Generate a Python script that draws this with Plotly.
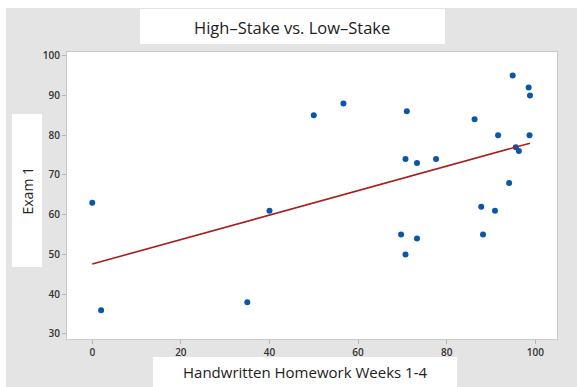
import plotly.graph_objects as go

# Data
homework = [0, 2, 35, 40, 50, 56.7, 71, 70.7, 73.3, 77.6, 86.3, 91.6, 94.9, 98.5,
            98.8, 98.7, 95.6, 96.3, 94.1, 87.8, 90.9, 88.2, 69.7, 73.3, 70.7]
exam1 = [63, 36, 38, 61, 85, 88, 86, 74, 73, 74, 84, 80, 95, 92,
         90, 80, 77, 76, 68, 62, 61, 55, 55, 54, 50]
fit_x = [0, 98.8]
fit_y = [47.6, 78.0]
x_ticks = [0, 20, 40, 60, 80, 100]
y_ticks = [30, 40, 50, 60, 70, 80, 90, 100]

title_text = "High\u2013Stake vs. Low\u2013Stake"
x_title = "Handwritten Homework Weeks 1-4"
y_title = "Exam 1"

W, H = 577, 387
L, R, T, B = 67, 557, 52, 339  # plot area in pixels


def px(x):
    return (x - L) / (R - L)


def py(y):
    return (B - y) / (B - T)


fig = go.Figure()
fig.add_trace(go.Scatter(x=homework, y=exam1, mode="markers",
                         marker=dict(size=6, color="#0a56a8"),
                         showlegend=False, hoverinfo="x+y"))
fig.add_trace(go.Scatter(x=fit_x, y=fit_y, mode="lines",
                         line=dict(color="#a81e1e", width=1.6),
                         showlegend=False, hoverinfo="skip"))

tickfont = dict(family="Open Sans", size=10, color="#333333", weight=600)
axis_common = dict(showgrid=False, zeroline=False, showline=True, mirror=True,
                   linecolor="#c9c9c9", linewidth=1, ticks="outside", ticklen=4,
                   tickcolor="#b5b5b5", tickfont=tickfont)

fig.update_xaxes(range=[-5.7, 104.9], tickvals=x_ticks, **axis_common)
fig.update_yaxes(range=[28.74, 100.93], tickvals=y_ticks, **axis_common)

shapes = [
    # white strips at top and left edges
    dict(type="rect", xref="paper", yref="paper", x0=px(0), x1=px(W), y0=py(0), y1=py(8),
         fillcolor="white", line=dict(width=0), layer="above"),
    dict(type="rect", xref="paper", yref="paper", x0=px(0), x1=px(6), y0=py(0), y1=py(H),
         fillcolor="white", line=dict(width=0), layer="above"),
    # title box
    dict(type="rect", xref="paper", yref="paper", x0=px(140), x1=px(445), y0=py(9), y1=py(44),
         fillcolor="white", line=dict(width=0), layer="above"),
    # y-label box
    dict(type="rect", xref="paper", yref="paper", x0=px(12), x1=px(42), y0=py(114), y1=py(267),
         fillcolor="white", line=dict(width=0), layer="above"),
    # x-label box
    dict(type="rect", xref="paper", yref="paper", x0=px(153), x1=px(457), y0=py(357), y1=py(390),
         fillcolor="white", line=dict(width=0), layer="above"),
]

annotations = [
    dict(text=title_text, xref="paper", yref="paper", x=px(292), y=py(27),
         xanchor="center", yanchor="middle", showarrow=False,
         font=dict(family="Open Sans", size=16.5, color="#222222")),
    dict(text=x_title, xref="paper", yref="paper", x=px(305), y=py(372),
         xanchor="center", yanchor="middle", showarrow=False,
         font=dict(family="Open Sans", size=15, color="#222222")),
    dict(text=y_title, xref="paper", yref="paper", x=px(27), y=py(190.5),
         xanchor="center", yanchor="middle", showarrow=False, textangle=-90,
         font=dict(family="Open Sans", size=14, color="#222222")),
]

fig.update_layout(
    width=W, height=H,
    margin=dict(l=L, r=W - R, t=T, b=H - B, pad=0),
    paper_bgcolor="#e4e4e4", plot_bgcolor="white",
    shapes=shapes, annotations=annotations,
    showlegend=False,
)

fig.write_html("out.html",
               config={"displayModeBar": False},
               post_script="document.body.style.margin='0';document.body.style.overflow='hidden';")
